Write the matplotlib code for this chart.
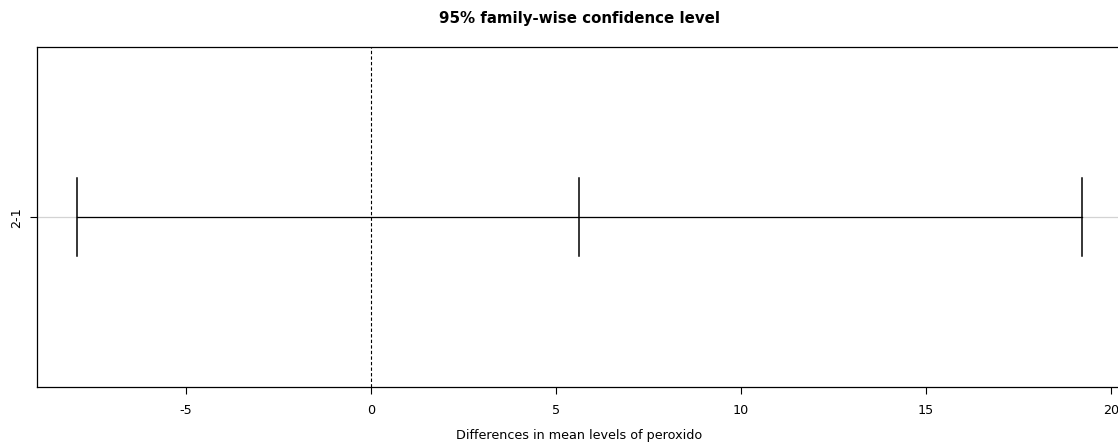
import matplotlib
matplotlib.use("Agg")
import matplotlib.pyplot as plt

# TukeyHSD result (one comparison)
comparisons = ["2-1"]
diff = [5.63]
lwr = [-7.95]
upr = [19.2]
xticks = [-5, 0, 5, 10, 15, 20]

plt.rcParams['font.family'] = ['DejaVu Sans']

fig = plt.figure(figsize=(11.18, 4.42), dpi=100)
ax = fig.add_axes([0.0328, 0.1238, 0.9705, 0.7699])

ypos = list(range(len(comparisons), 0, -1))
for y, d, lo, hi in zip(ypos, diff, lwr, upr):
    ax.axhline(y, color='#d3d3d3', lw=0.9, zorder=1)
    ax.plot([lo, hi], [y, y], color='black', lw=0.9, zorder=2)
    for xv in (lo, d, hi):
        ax.plot([xv, xv], [y - 0.115, y + 0.115], color='black', lw=1.1, zorder=3)

ax.axvline(0, color='black', lw=0.8, ls=(0, (3, 2)), zorder=2)

span = max(upr) - min(lwr)
ax.set_xlim(min(lwr) - 0.04 * span, max(upr) + 0.04 * span)
ax.set_ylim(0.5, len(comparisons) + 0.5)

ax.set_xticks(xticks)
ax.set_xticklabels([str(t) for t in xticks], fontsize=9.2)
ax.set_yticks(ypos)
ax.set_yticklabels(comparisons, fontsize=9.2, rotation=90, va='center')
ax.tick_params(axis='x', direction='out', length=5, width=0.8, pad=7)
ax.tick_params(axis='y', direction='out', length=5, width=0.8, pad=5)
for s in ax.spines.values():
    s.set_linewidth(0.9)

ax.set_xlabel("Differences in mean levels of peroxido", fontsize=9.2, labelpad=9)
ax.set_title("95% family-wise confidence level", fontsize=10.8, fontweight='bold', pad=17)

fig.savefig("out.png", dpi=100)
